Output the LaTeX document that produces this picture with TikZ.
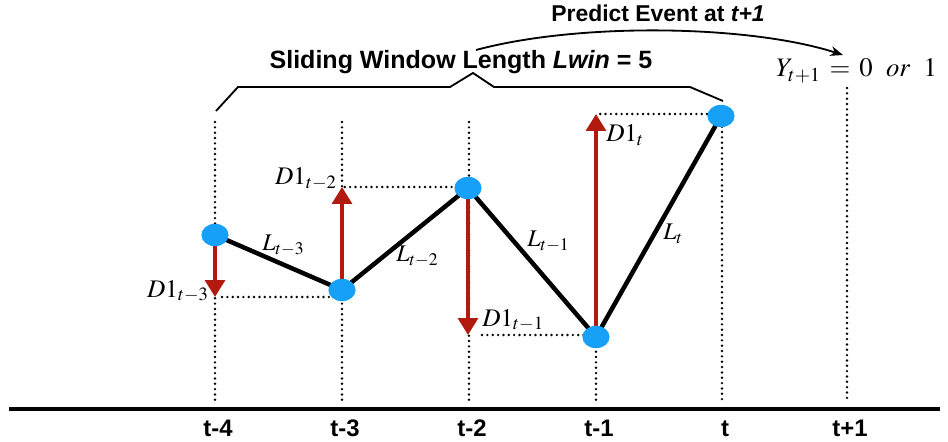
\documentclass[tikz,border=0pt]{standalone}
\usepackage[no-math]{fontspec}
\usepackage{mathptmx}
\usepackage{tikz}
\usetikzlibrary{arrows.meta, shapes.geometric}
\newfontfamily\helv{Liberation Sans}
\definecolor{ptblue}{RGB}{22,160,248}
\definecolor{diffred}{RGB}{178,26,16}

\begin{document}
\begin{tikzpicture}[
		x=0.25mm, y=-0.25mm,
		pt/.style={ellipse, fill=ptblue, inner sep=0pt, minimum width=6.8mm, minimum height=5.6mm},
		seg/.style={line width=3.2pt, line join=round},
		diff/.style={-{Triangle[length=12pt,width=14pt]}, line width=2.6pt, draw=diffred},
		guide/.style={line width=1.9pt, line cap=round, dash pattern=on 0pt off 3.8pt},
		tick/.style={font=\helv\bfseries\fontsize{17}{20}\selectfont, anchor=base},
		mlab/.style={font=\fontsize{18}{21}\selectfont, inner sep=0pt},
		title/.style={font=\helv\bfseries\fontsize{17.8}{21}\selectfont, anchor=base, inner sep=0pt}
	]
		\useasboundingbox (0,0) rectangle (948,442);

		% time axis
		\coordinate (axl) at (9,409);
		\coordinate (axr) at (940,409);
		\draw[line width=2.2pt] (axl) -- (axr);
		\foreach \x/\top/\lab/\n in {215/122/t-4/1,342/122/t-3/2,469/122/t-2/3,596/122/t-1/4,722/116/t/5,847/88/t+1/6} {
			\coordinate (top\n) at (\x,\top);
			\coordinate (bot\n) at (\x,400);
			\draw[guide] (top\n) -- (bot\n);
			\node[tick] (tk\n) at (\x+3,436) {\lab};
		}

		% series points and difference levels
		\coordinate (c1) at (215,235);
		\coordinate (c2) at (342,290);
		\coordinate (c3) at (468,188);
		\coordinate (c4) at (596,337);
		\coordinate (c5) at (721,116);
		\coordinate (d1) at (215,297);
		\coordinate (d2) at (342,187);
		\coordinate (d3) at (468,335);
		\coordinate (d4) at (596,114);

		\draw[guide, shorten <=5pt, shorten >=8.5pt] (d1) -- (d1 -| c2);
		\draw[guide, shorten <=2pt, shorten >=9pt] (d2) -- (d2 -| c3);
		\draw[guide, shorten <=10pt, shorten >=4pt] (d3) -- (d3 -| c4);
		\draw[guide, shorten <=3pt, shorten >=8pt] (d4) -- (d4 -| c5);

		\draw[seg] (c1) -- (c2) -- (c3) -- (c4) -- (c5);
		\foreach \i in {1,...,4}
			\draw[diff] (c\i) -- (d\i);
		\foreach \i in {1,...,5}
			\node[pt] (p\i) at (c\i) {};

		\node[mlab, anchor=base east] (dl1) at (209,297) {$D1_{t-3}$};
		\node[mlab, anchor=base east] (dl2) at (337,185) {$D1_{t-2}$};
		\node[mlab, anchor=base west] (dl3) at (482,326) {$D1_{t-1}$};
		\node[mlab, anchor=base west] (dl4) at (606,142) {$D1_{t}$};
		\node[mlab, anchor=base west, font=\fontsize{17}{20}\selectfont] (ll1) at (262,251) {$L_{t-3}$};
		\node[mlab, anchor=base west, font=\fontsize{17}{20}\selectfont] (ll2) at (396,262) {$L_{t-2}$};
		\node[mlab, anchor=base west, font=\fontsize{17}{20}\selectfont] (ll3) at (527,247) {$L_{t-1}$};
		\node[mlab, anchor=base west, font=\fontsize{17}{20}\selectfont] (ll4) at (663,240) {$L_{t}$};

		% window brace and prediction
		\draw[line width=1.3pt] (216,111) -- (238,87) -- (450,87) -- (473,73) -- (494,87) -- (690,87) -- (723,101);
		\node[title] (win) at (461,69) {Sliding Window Length \textit{Lwin} = 5};
		\node[title, font=\helv\bfseries\fontsize{16.3}{19}\selectfont] (pred) at (658,22) {Predict Event at \textit{t+1}};
		\node[mlab, anchor=base west, font=\fontsize{19}{23}\selectfont] (yout) at (776,77) {$Y_{t+1}\mskip2mu=\mskip2mu 0\enspace or\enspace 1$};
		\coordinate (arrs) at (476,50);
		\coordinate (arre) at (843,55);
		\draw[line width=1.3pt, -{Stealth[length=9pt,width=7pt]}] (arrs) .. controls (580,22) and (750,25) .. (arre);
	\end{tikzpicture}
\end{document}
